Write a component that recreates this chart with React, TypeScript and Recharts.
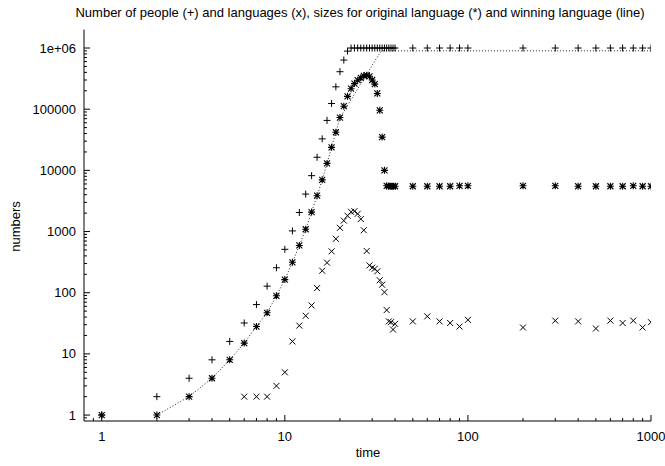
import { ScatterChart, Scatter, XAxis, YAxis } from 'recharts';

// time steps: 1..40, then every 10 up to 100, then every 100 up to 1000
const TIMES = [
  1, 2, 3, 4, 5, 6, 7, 8, 9, 10, 11, 12, 13, 14, 15, 16, 17, 18, 19, 20,
  21, 22, 23, 24, 25, 26, 27, 28, 29, 30, 31, 32, 33, 34, 35, 36, 37, 38, 39, 40,
  50, 60, 70, 80, 90, 100, 200, 300, 400, 500, 600, 700, 800, 900, 1000,
];

// number of people (+)
const PEOPLE = [
  1, 2, 4, 8, 16, 32, 64, 128, 256, 512, 1024, 2048, 4096, 8192, 16384, 32768, 65536, 124000, 232000, 410000,
  635000, 890000, 1000000, 1000000, 1000000, 1000000, 1000000, 1000000, 1000000, 1000000,
  1000000, 1000000, 1000000, 1000000, 1000000, 1000000, 1000000, 1000000, 1000000, 1000000,
  1000000, 1000000, 1000000, 1000000, 1000000, 1000000, 1000000, 1000000, 1000000, 1000000,
  1000000, 1000000, 1000000, 1000000, 1000000,
];

// size of the original language (*)
const ORIGINAL = [
  1, 1, 2, 4, 8, 15, 28, 47, 89, 164, 314, 592, 1090, 2080, 3850, 7000, 13000, 23800, 42000, 73000,
  112000, 162000, 216000, 262000, 298000, 326000, 350000, 360000, 345000, 300000,
  257000, 181000, 96000, 35000, 10000, 5600, 5500, 5500, 5500, 5500,
  5500, 5500, 5500, 5500, 5600, 5600, 5600, 5600, 5500, 5500, 5500, 5500, 5600, 5500, 5500,
];

// number of languages (x)
const LANG_TIMES = [
  6, 7, 8, 9, 10, 11, 12, 13, 14, 15, 16, 17, 18, 19, 20, 21, 22, 23, 24, 25,
  26, 27, 28, 29, 30, 31, 32, 33, 34, 35, 36, 37, 38, 39, 40,
  50, 60, 70, 80, 90, 100, 200, 300, 400, 500, 600, 700, 800, 900, 1000,
];
const LANGUAGES = [
  2, 2, 2, 3, 5, 16, 29, 42, 62, 119, 229, 310, 475, 760, 1150, 1510, 1810, 2100, 2150, 1950,
  1600, 1050, 480, 280, 257, 247, 224, 160, 135, 102, 52, 34, 33, 25, 31,
  34, 41, 34, 32, 28, 36, 27, 35, 34, 26, 35, 32, 35, 27, 33,
];

// size of the winning language (dotted line)
const WIN_TIMES = [
  2, 3, 4, 5, 6, 7, 8, 9, 10, 11, 12, 13, 14, 15, 16, 17, 18, 19, 20,
  21, 22, 23, 24, 25, 26, 27, 28, 29, 30, 31, 32, 33, 34, 35, 36, 37, 38, 39, 40,
  50, 60, 70, 80, 90, 100, 200, 300, 400, 500, 600, 700, 800, 900, 1000,
];
const WINNING = [
  1, 2, 4, 8, 15, 28, 47, 89, 164, 314, 592, 1090, 2080, 3850, 7000, 13000, 23800, 42000, 73000,
  91000, 115000, 143000, 176000, 214000, 261000, 311000, 373000, 443000, 523000,
  612000, 714000, 820000, 900000, 900000, 900000, 900000, 900000, 900000, 900000,
  900000, 900000, 900000, 900000, 900000, 900000, 900000, 900000, 900000, 900000,
  900000, 900000, 900000, 900000, 900000,
];

const X_TICKS = [
  0.9, 1, 2, 3, 4, 5, 6, 7, 8, 9, 10, 20, 30, 40, 50, 60, 70, 80, 90,
  100, 200, 300, 400, 500, 600, 700, 800, 900, 1000,
];
const Y_TICKS = [
  0.9, 1, 2, 3, 4, 5, 6, 7, 8, 9, 10, 20, 30, 40, 50, 60, 70, 80, 90,
  100, 200, 300, 400, 500, 600, 700, 800, 900,
  1000, 2000, 3000, 4000, 5000, 6000, 7000, 8000, 9000,
  10000, 20000, 30000, 40000, 50000, 60000, 70000, 80000, 90000,
  100000, 200000, 300000, 400000, 500000, 600000, 700000, 800000, 900000, 1000000,
];

const zip = (xs: number[], ys: number[]) => xs.map((t, i) => ({ t, v: ys[i] }));
const peopleData = zip(TIMES, PEOPLE);
const originalData = zip(TIMES, ORIGINAL);
const langData = zip(LANG_TIMES, LANGUAGES);
const winData = zip(WIN_TIMES, WINNING);

const FONT = '"Liberation Sans", Arial, sans-serif';
const FS = 13;
const INK = '#000';
const MAJOR = 6;
const MINOR = 3;

const isMajor = (v: number) => {
  const l = Math.log10(v);
  return Math.abs(l - Math.round(l)) < 1e-9;
};
const fmtY = (v: number) => (v >= 1000000 ? '1e+06' : String(v));

const BottomTick = ({ x, y, payload }: any) => {
  const major = isMajor(payload.value);
  return (
    <g>
      <line x1={x} y1={y} x2={x} y2={y - (major ? MAJOR : MINOR)} stroke={INK} />
      {major && (
        <text x={x} y={y + 20} textAnchor="middle" fontSize={FS} fontFamily={FONT} fill={INK}>
          {payload.value}
        </text>
      )}
    </g>
  );
};

const TopTick = ({ x, y, payload }: any) => (
  <line x1={x} y1={y} x2={x} y2={y + (isMajor(payload.value) ? MAJOR : MINOR)} stroke={INK} />
);

const LeftTick = ({ x, y, payload }: any) => {
  const major = isMajor(payload.value);
  return (
    <g>
      <line x1={x} y1={y} x2={x + (major ? MAJOR : MINOR)} y2={y} stroke={INK} />
      {major && (
        <text x={x - 8} y={y + 4.5} textAnchor="end" fontSize={FS} fontFamily={FONT} fill={INK}>
          {fmtY(payload.value)}
        </text>
      )}
    </g>
  );
};

const RightTick = ({ x, y, payload }: any) => (
  <line x1={x} y1={y} x2={x - (isMajor(payload.value) ? MAJOR : MINOR)} y2={y} stroke={INK} />
);

const R = 3.5;
const Plus = ({ cx, cy }: any) => (
  <path d={`M${cx - R},${cy}H${cx + R}M${cx},${cy - R}V${cy + R}`} stroke={INK} strokeWidth={1} fill="none" />
);
const Cross = ({ cx, cy }: any) => (
  <path
    d={`M${cx - 3},${cy - 3}L${cx + 3},${cy + 3}M${cx - 3},${cy + 3}L${cx + 3},${cy - 3}`}
    stroke={INK}
    strokeWidth={1}
    fill="none"
  />
);
const Star = ({ cx, cy }: any) => (
  <path
    d={`M${cx - R},${cy}H${cx + R}M${cx},${cy - R}V${cy + R}M${cx - 3},${cy - 3}L${cx + 3},${cy + 3}M${cx - 3},${cy + 3}L${cx + 3},${cy - 3}`}
    stroke={INK}
    strokeWidth={1.1}
    fill="none"
  />
);
const NoDot = () => <g />;

const X_DOMAIN: [number, number] = [0.8, 1000];
const Y_DOMAIN: [number, number] = [0.8, 2000000];

export default function App() {
  return (
    <div style={{ position: 'absolute', left: 0, top: 0, width: 665, height: 466, background: '#fff', fontFamily: FONT }}>
      <ScatterChart width={665} height={466} margin={{ top: 29.6, right: 14, bottom: 0, left: 0 }}>
        <XAxis
          dataKey="t"
          type="number"
          scale="log"
          domain={X_DOMAIN}
          allowDataOverflow
          ticks={X_TICKS}
          interval={0}
          height={45}
          tickSize={0}
          tickMargin={0}
          tickLine={false}
          axisLine={{ stroke: INK }}
          tick={BottomTick}
        />
        <XAxis
          xAxisId="top"
          orientation="top"
          dataKey="t"
          type="number"
          scale="log"
          domain={X_DOMAIN}
          allowDataOverflow
          ticks={X_TICKS}
          interval={0}
          height={0}
          tickSize={0}
          tickMargin={0}
          tickLine={false}
          axisLine={{ stroke: INK }}
          tick={TopTick}
        />
        <YAxis
          dataKey="v"
          type="number"
          scale="log"
          domain={Y_DOMAIN}
          allowDataOverflow
          ticks={Y_TICKS}
          interval={0}
          width={84}
          tickSize={0}
          tickMargin={0}
          tickLine={false}
          axisLine={{ stroke: INK }}
          tick={LeftTick}
        />
        <YAxis
          yAxisId="r"
          orientation="right"
          dataKey="v"
          type="number"
          scale="log"
          domain={Y_DOMAIN}
          allowDataOverflow
          ticks={Y_TICKS}
          interval={0}
          width={0}
          tickSize={0}
          tickMargin={0}
          tickLine={false}
          axisLine={{ stroke: INK }}
          tick={RightTick}
        />
        <Scatter
          data={winData}
          line={{ stroke: '#222', strokeWidth: 1, strokeDasharray: '1 2' }}
          shape={NoDot}
          isAnimationActive={false}
        />
        <Scatter data={peopleData} shape={Plus} isAnimationActive={false} />
        <Scatter data={langData} shape={Cross} isAnimationActive={false} />
        <Scatter data={originalData} shape={Star} isAnimationActive={false} />
      </ScatterChart>
      <div
        style={{ position: 'absolute', left: 60, top: 5, width: 600, textAlign: 'center', fontSize: FS, lineHeight: '15px' }}
      >
        Number of people (+) and languages (x), sizes for original language (*) and winning language (line)
      </div>
      <div
        style={{
          position: 'absolute',
          left: -35,
          top: 219,
          width: 100,
          textAlign: 'center',
          fontSize: FS,
          lineHeight: '15px',
          transform: 'rotate(-90deg)',
        }}
      >
        numbers
      </div>
      <div style={{ position: 'absolute', left: 318, top: 445, width: 100, textAlign: 'center', fontSize: FS, lineHeight: '15px' }}>
        time
      </div>
    </div>
  );
}
